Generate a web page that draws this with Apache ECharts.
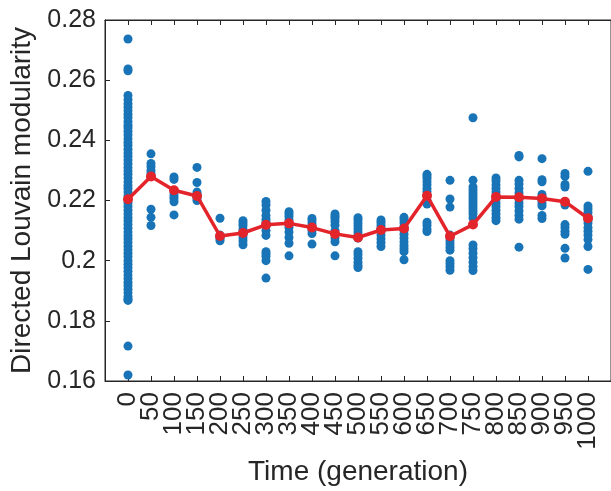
<!DOCTYPE html>
<html>
<head>
<meta charset="utf-8">
<script src="https://cdn.jsdelivr.net/npm/echarts@6/dist/echarts.min.js"></script>
<style>
html,body{margin:0;padding:0;background:#fff;}
#chart{width:611px;height:491px;}
</style>
</head>
<body>
<div id="chart"></div>
<script>
const times = [0,50,100,150,200,250,300,350,400,450,500,550,600,650,700,750,800,850,900,950,1000];
const tickLabels = ['0','50','100','150','200','250','300','350','400','450','500','550','600','650','700','750','800','850','900','950','1000'];

const g0 = [0.2737,0.2637,0.2631,0.2549,0.2535,0.2522,0.2510,0.2498,0.2487,0.2475,0.2462,0.2450,0.2441,0.2430,0.2418,0.2405,0.2393,0.2382,0.2370,0.2358,0.2347,0.2335,0.2322,0.2310,0.2298,0.2287,0.2275,0.2262,0.2250,0.2240,0.2228,0.2215,0.2203,0.2192,0.2180,0.2168,0.2155,0.2143,0.2132,0.2120,0.2108,0.2095,0.2083,0.2072,0.2060,0.2048,0.2036,0.2025,0.2013,0.2000,0.1988,0.1977,0.1965,0.1952,0.1940,0.1928,0.1917,0.1905,0.1893,0.1880,0.1872,0.1868,0.1716,0.1620];
const g50 = [0.2355,0.2323,0.2312,0.2300,0.2290,0.2280,0.2171,0.2144,0.2117];
const g100 = [0.2278,0.2270,0.2225,0.2215,0.2207,0.2196,0.2152];
const g150 = [0.2310,0.2260,0.2228,0.2222,0.2215,0.2208,0.2200];
const g200 = [0.2141,0.2085,0.2078,0.2072,0.2066];
const g250 = [0.2133,0.2125,0.2117,0.2105,0.2096,0.2085,0.2075,0.2065,0.2053];
const g300 = [0.2197,0.2185,0.2168,0.2150,0.2138,0.2128,0.2115,0.2100,0.2084,0.2030,0.2022,0.2014,0.2000,0.1942];
const g350 = [0.2163,0.2155,0.2147,0.2135,0.2120,0.2110,0.2095,0.2077,0.2058,0.2016];
const g400 = [0.2140,0.2132,0.2122,0.2112,0.2100,0.2090,0.2055];
const g450 = [0.2155,0.2148,0.2140,0.2130,0.2118,0.2100,0.2090,0.2075,0.2063,0.2016];
const g500 = [0.2143,0.2135,0.2125,0.2115,0.2105,0.2095,0.2085,0.2075,0.2030,0.2020,0.2008,0.1995,0.1985,0.1977];
const g550 = [0.2135,0.2128,0.2118,0.2108,0.2098,0.2085,0.2072,0.2060,0.2047];
const g600 = [0.2144,0.2135,0.2125,0.2113,0.2100,0.2088,0.2075,0.2062,0.2050,0.2040,0.2030,0.2003];
const g650 = [0.2287,0.2280,0.2272,0.2262,0.2252,0.2240,0.2230,0.2218,0.2200,0.2188,0.2128,0.2118,0.2105,0.2097];
const g700 = [0.2267,0.2205,0.2178,0.2085,0.2075,0.2065,0.2055,0.2045,0.2035,0.2000,0.1990,0.1980,0.1968];
const g750 = [0.2475,0.2267,0.2245,0.2235,0.2225,0.2215,0.2205,0.2195,0.2185,0.2175,0.2165,0.2155,0.2142,0.2052,0.2040,0.2025,0.2010,0.1995,0.1980,0.1967];
const g800 = [0.2275,0.2265,0.2252,0.2240,0.2228,0.2215,0.2205,0.2192,0.2180,0.2168,0.2155,0.2143,0.2133];
const g850 = [0.2350,0.2345,0.2267,0.2255,0.2240,0.2225,0.2205,0.2192,0.2180,0.2165,0.2150,0.2138,0.2045];
const g900 = [0.2339,0.2269,0.2262,0.2220,0.2210,0.2200,0.2190,0.2182,0.2150,0.2140];
const g950 = [0.2290,0.2280,0.2253,0.2245,0.2195,0.2185,0.2120,0.2110,0.2098,0.2088,0.2041,0.2009];
const g1000 = [0.2297,0.2182,0.2172,0.2160,0.2148,0.2135,0.2125,0.2110,0.2098,0.2085,0.2070,0.2047,0.1971];

const groups = [g0,g50,g100,g150,g200,g250,g300,g350,g400,g450,g500,g550,g600,g650,g700,g750,g800,g850,g900,g950,g1000];
const means = [0.2204,0.2280,0.2234,0.2215,0.2082,0.2092,0.2119,0.2124,0.2110,0.2089,0.2077,0.2102,0.2107,0.2216,0.2081,0.2120,0.2212,0.2211,0.2207,0.2196,0.2141];

const scatterData = [];
groups.forEach((g, i) => g.forEach(v => scatterData.push([times[i], v])));
const meanData = times.map((t, i) => [t, means[i]]);

const FONT = 'Liberation Sans, Arial, Helvetica, sans-serif';
const AX = '#262626';

const chart = echarts.init(document.getElementById('chart'), null, {renderer: 'canvas'});
chart.setOption({
  animation: false,
  backgroundColor: '#fff',
  grid: {left: 105, top: 20, width: 517, height: 369, containLabel: false,
         show: true, borderColor: AX, borderWidth: 1, backgroundColor: 'transparent'},
  xAxis: [{
    type: 'value', min: -50, max: 1050, interval: 50,
    position: 'bottom',
    name: 'Time (generation)', nameLocation: 'middle', nameGap: 77,
    nameTextStyle: {fontSize: 28, color: AX, fontFamily: FONT},
    axisLine: {show: true, onZero: false, lineStyle: {color: AX, width: 1}},
    axisTick: {show: true, inside: true, length: 5, lineStyle: {color: AX}},
    splitLine: {show: false},
    axisLabel: {
      rotate: 90, margin: 11, fontSize: 26, color: AX, fontFamily: FONT,
      formatter: v => { const i = times.indexOf(Math.round(v)); return i >= 0 ? tickLabels[i] : ''; }
    }
  }, {
    type: 'value', min: -50, max: 1050, interval: 50,
    position: 'top', gridIndex: 0,
    axisLine: {show: true, onZero: false, lineStyle: {color: AX, width: 1}},
    axisTick: {show: true, inside: true, length: 5, lineStyle: {color: AX}},
    splitLine: {show: false},
    axisLabel: {show: false}
  }],
  yAxis: [{
    type: 'value', min: 0.16, max: 0.28, interval: 0.02,
    name: 'Directed Louvain modularity', nameLocation: 'middle', nameGap: 62,
    nameTextStyle: {fontSize: 28, color: AX, fontFamily: FONT},
    axisLine: {show: true, onZero: false, lineStyle: {color: AX, width: 1}},
    axisTick: {show: true, inside: true, length: 5, lineStyle: {color: AX}},
    splitLine: {show: false},
    axisLabel: {
      margin: 9, fontSize: 25, color: AX, fontFamily: FONT,
      formatter: v => String(parseFloat(v.toFixed(2)))
    }
  }],
  series: [{
    type: 'scatter',
    data: scatterData,
    symbol: 'circle', symbolSize: 9,
    itemStyle: {color: '#1874b6', opacity: 1},
    z: 2
  }, {
    type: 'line',
    data: meanData,
    symbol: 'circle', symbolSize: 10, showSymbol: true,
    lineStyle: {color: '#e3242b', width: 3.5},
    itemStyle: {color: '#e3242b'},
    z: 3
  }]
});
</script>
</body>
</html>
